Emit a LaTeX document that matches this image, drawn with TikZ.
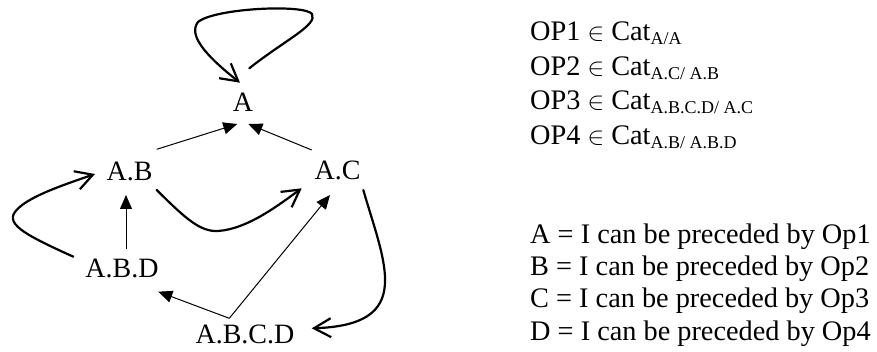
\documentclass[tikz,border=0pt]{standalone}
\usepackage{fontspec}
\setmainfont{Liberation Serif}
\usetikzlibrary{arrows.meta}
\newcommand{\mysub}[1]{\raisebox{-4pt}{\fontsize{18}{18}\selectfont #1}}
\begin{document}
\begin{tikzpicture}[x=1pt,y=-1pt,
  lbl/.style={inner sep=0pt, anchor=base, font=\fontsize{28}{30}\selectfont},
  txt/.style={inner sep=0pt, anchor=base west, font=\fontsize{28.3}{30}\selectfont},
  sarrow/.style={line width=1pt, -{Triangle[length=14pt,width=12pt]}},
  carrow/.style={line width=2.2pt, line cap=round, -{Straight Barb[length=17pt,width=19pt]}}]
\useasboundingbox (0,0) rectangle (877,352);

% graph nodes
\node[lbl] (A)    at (243,112)   {A};
\node[lbl] (AB)   at (129.5,181) {A.B};
\node[lbl] (AC)   at (337.5,180) {A.C};
\node[lbl] (ABD)  at (122,278)   {A.B.D};
\node[lbl] (ABCD) at (245,343)   {A.B.C.D};

% straight connectors
\draw[sarrow] ([shift={(27.2,-31.7)}]AB.base) -- ([shift={(-5.7,12)}]A.base);
\draw[sarrow] ([shift={(-25.8,-30)}]AC.base) -- ([shift={(5.3,12)}]A.base);
\draw[sarrow] ([shift={(4,-28.7)}]ABD.base) -- ([shift={(-3.5,14)}]AB.base);
\draw[sarrow] ([shift={(-15.7,-24.7)}]ABCD.base) -- ([shift={(36.3,13.7)}]ABD.base);
\draw[sarrow] ([shift={(-15.7,-24.7)}]ABCD.base) -- ([shift={(-7.5,15)}]AC.base);

% curved connectors
\draw[carrow] ([shift={(6.3,-43.7)}]A.base)
  .. controls (285,40) and (318,25) .. (312,14)
  .. controls (305,4) and (215,8) .. (198,22)
  .. controls (188,35) and (205,55) .. ([shift={(-3,-29.3)}]A.base);
\draw[carrow] ([shift={(-48.7,-21.3)}]ABD.base)
  .. controls (30,237) and (5,225) .. (15,212)
  .. controls (25,198) and (60,186) .. ([shift={(-34.5,-7)}]AB.base);
\draw[carrow] ([shift={(27.2,9)}]AB.base)
  .. controls (185,218) and (200,232) .. (218,231)
  .. controls (248,229) and (280,204) .. ([shift={(-35.8,8.3)}]AC.base);
\draw[carrow] ([shift={(25.8,10)}]AC.base)
  .. controls (385,265) and (415,325) .. ([shift={(66.7,-14.7)}]ABCD.base);

% right-hand texts
\node[txt] (op1) at (530,41)  {OP1 $\in$ Cat\mysub{A/A}};
\node[txt] (op2) at (530,76)  {OP2 $\in$ Cat\mysub{A.C/ A.B}};
\node[txt] (op3) at (530,110) {OP3 $\in$ Cat\mysub{A.B.C.D/ A.C}};
\node[txt] (op4) at (530,145) {OP4 $\in$ Cat\mysub{A.B/ A.B.D}};

\node[txt] (la) at (530,244) {A = I can be preceded by Op1};
\node[txt] (lb) at (530,276) {B = I can be preceded by Op2};
\node[txt] (lc) at (530,308) {C = I can be preceded by Op3};
\node[txt] (ld) at (530,340) {D = I can be preceded by Op4};
\end{tikzpicture}
\end{document}
